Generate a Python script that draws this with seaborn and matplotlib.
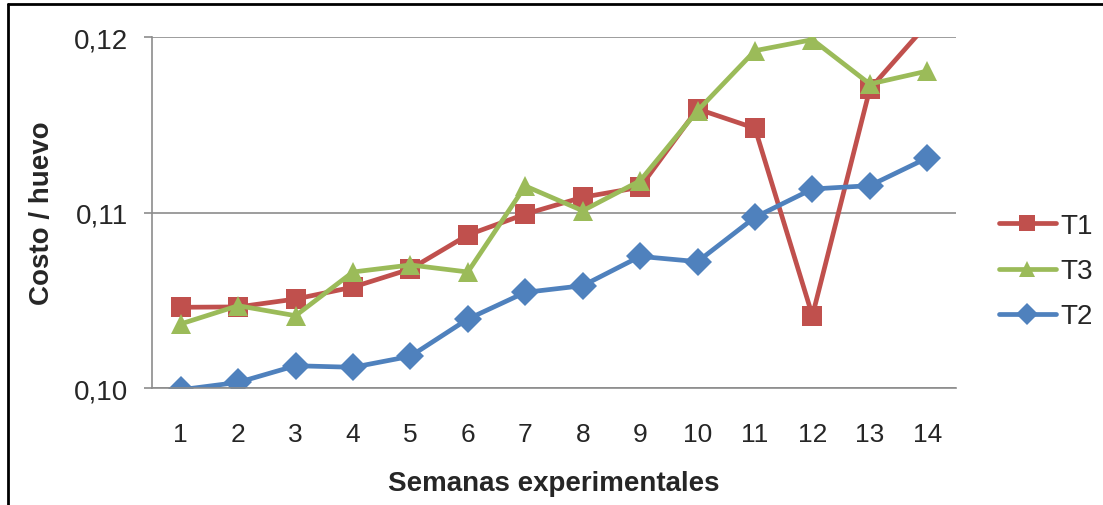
import matplotlib

matplotlib.use("Agg")

import matplotlib.pyplot as plt
import pandas as pd
import seaborn as sns
from matplotlib.lines import Line2D
from matplotlib.ticker import FuncFormatter

weeks = list(range(1, 15))
t1 = [0.10460, 0.10462, 0.10507, 0.10575, 0.10678, 0.10872, 0.10991,
      0.11087, 0.11144, 0.11590, 0.11480, 0.10412, 0.11704, 0.12074]
t3 = [0.10365, 0.10469, 0.10412, 0.10661, 0.10701, 0.10661, 0.11151,
      0.11010, 0.11181, 0.11580, 0.11922, 0.11985, 0.11732, 0.11806]
t2 = [0.09990, 0.10032, 0.10127, 0.10118, 0.10181, 0.10393, 0.10545,
      0.10583, 0.10750, 0.10720, 0.10973, 0.11134, 0.11153, 0.11311]
series = ["T1", "T3", "T2"]
colors = {"T1": "#C0504D", "T3": "#9BBB59", "T2": "#4F81BD"}
markers = {"T1": "s", "T3": "^", "T2": "D"}

df = pd.DataFrame({
    "semana": weeks * 3,
    "costo": t1 + t3 + t2,
    "serie": ["T1"] * 14 + ["T3"] * 14 + ["T2"] * 14,
})

sns.set_style("white")
plt.rcParams["font.family"] = ["Liberation Sans", "DejaVu Sans"]

fig = plt.figure(figsize=(11.03, 5.06), dpi=100)
ax = fig.add_axes([0.1378, 0.2312, 0.7289, 0.6937])

sns.lineplot(data=df, x="semana", y="costo", hue="serie", style="serie",
             hue_order=series, style_order=series, palette=colors,
             markers=markers, dashes=False, linewidth=3.4, markersize=14,
             markeredgewidth=0, ax=ax)

ax.set_xlim(0.5, 14.5)
ax.set_ylim(0.10, 0.12)
ax.set_xticks(weeks)
ax.set_yticks([0.10, 0.11, 0.12])
ax.yaxis.set_major_formatter(FuncFormatter(lambda v, p: f"{v:.2f}".replace(".", ",")))
ax.grid(axis="y", color="#8c8c8c", linewidth=1.2)
ax.set_axisbelow(True)
for side in ["top", "right"]:
    ax.spines[side].set_visible(False)
for side in ["left", "bottom"]:
    ax.spines[side].set_color("#8c8c8c")
    ax.spines[side].set_linewidth(1.2)
ax.tick_params(axis="y", which="both", left=True, length=6, width=1.2,
               color="#8c8c8c", labelsize=20, pad=11.5)
ax.tick_params(axis="x", bottom=False, labelsize=19, pad=21)

ax.set_xlabel("Semanas experimentales", fontsize=20, fontweight="bold", labelpad=17)
ax.set_ylabel("Costo / huevo", fontsize=20, fontweight="bold", labelpad=13)

handles, labels = ax.get_legend_handles_labels()
ax.get_legend().remove()
for h in handles:
    h.set_markersize(11)
fig.legend(handles, labels, loc="center left", bbox_to_anchor=(0.883, 0.462),
           frameon=False, fontsize=20, handlelength=2.05, handletextpad=0.15,
           labelspacing=0.69)

# black frame along the top and left edges
fig.add_artist(Line2D([0.007, 1.0], [0.99, 0.99], color="black", linewidth=2))
fig.add_artist(Line2D([0.007, 0.007], [0.0, 0.99], color="black", linewidth=2))

fig.savefig("out.png", dpi=100)
